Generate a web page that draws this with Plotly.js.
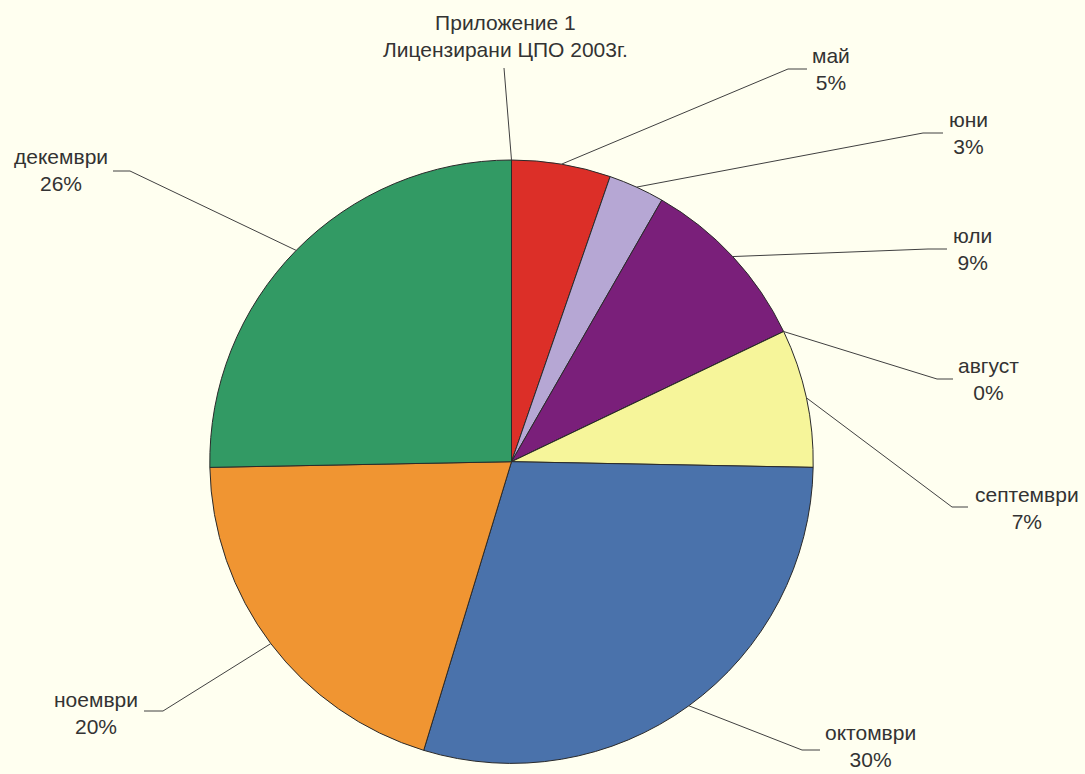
<!DOCTYPE html>
<html>
<head>
<meta charset="utf-8">
<script src="https://cdn.plot.ly/plotly-3.0.1.min.js"></script>
<style>
  html, body { margin: 0; padding: 0; background: #FFFFF0; }
  #chart { width: 1085px; height: 774px; }
</style>
</head>
<body>
<div id="chart"></div>
<script>
// ---- data ----
const months = ["май", "юни", "юли", "август", "септември", "октомври", "ноември", "декември"];
const shares = [5.3, 3.0, 9.6, 0, 7.4, 29.4, 20.0, 25.3];
// percentages as printed on the reference labels
const shareLabels = ["5%", "3%", "9%", "0%", "7%", "30%", "20%", "26%"];
const sliceColors = ["#DC2F28", "#B6A7D4", "#7A1F7A", "#9999CC", "#F6F59A", "#4A72AB", "#F09532", "#329A64"];
const titleLines = ["Приложение 1", "Лицензирани ЦПО 2003г."];

// ---- layout constants (pixels) ----
const W = 1085, H = 774;
const CX = 511.5, CY = 461.7, R = 301.7;
// label placement: text centre, elbow point, end of horizontal stub
const labelPos = [
  {tx: 831, ty: 69,  ex: 788, ey: 69,  hx: 807},
  {tx: 968, ty: 133, ex: 923, ey: 133, hx: 943},
  {tx: 972, ty: 249, ex: 928, ey: 249, hx: 947},
  {tx: 988, ty: 379, ex: 937, ey: 379, hx: 953},
  {tx: 1027, ty: 508, ex: 952, ey: 507, hx: 968},
  {tx: 870, ty: 746, ex: 802, ey: 750, hx: 820},
  {tx: 96,  ty: 713, ex: 163, ey: 711, hx: 144},
  {tx: 61,  ty: 170, ex: 130, ey: 171, hx: 113}
];
const titlePos = {tx: 505, ty: 36, lx: 504, ly: 68};

const px = x => x / W;
const py = y => 1 - y / H;

const total = shares.reduce((a, b) => a + b, 0);
const shapes = [];
const annotations = [];
const lineColor = "#404040";
const textColor = "#333333";
const fontFam = "'Liberation Sans', Arial, sans-serif";
const fontSize = 21;

let cum = 0;
shares.forEach((v, i) => {
  const mid = (cum + v / 2) / total * 2 * Math.PI;
  cum += v;
  const x0 = CX + R * Math.sin(mid), y0 = CY - R * Math.cos(mid);
  const p = labelPos[i];
  shapes.push({
    type: "path", xref: "paper", yref: "paper",
    path: `M ${px(x0)} ${py(y0)} L ${px(p.ex)} ${py(p.ey)} L ${px(p.hx)} ${py(p.ey)}`,
    line: {color: lineColor, width: 1}
  });
  annotations.push({
    xref: "paper", yref: "paper", x: px(p.tx), y: py(p.ty),
    xanchor: "center", yanchor: "middle", showarrow: false,
    text: months[i] + "<br>" + shareLabels[i],
    font: {family: fontFam, size: fontSize, color: textColor}, align: "center"
  });
});

// title with its leader line to the top of the pie
shapes.push({
  type: "path", xref: "paper", yref: "paper",
  path: `M ${px(titlePos.lx)} ${py(titlePos.ly)} L ${px(CX)} ${py(CY - R)}`,
  line: {color: lineColor, width: 1}
});
annotations.push({
  xref: "paper", yref: "paper", x: px(titlePos.tx), y: py(titlePos.ty),
  xanchor: "center", yanchor: "middle", showarrow: false,
  text: titleLines.join("<br>"),
  font: {family: fontFam, size: fontSize, color: textColor}, align: "center"
});

const trace = {
  type: "pie",
  labels: months,
  values: shares,
  sort: false,
  direction: "clockwise",
  rotation: 0,
  textinfo: "none",
  hoverinfo: "label+percent",
  marker: {colors: sliceColors, line: {color: "#2a2a2a", width: 1}},
  domain: {x: [px(CX - R), px(CX + R)], y: [py(CY + R), py(CY - R)]},
  showlegend: false
};

const layout = {
  width: W, height: H,
  margin: {l: 0, r: 0, t: 0, b: 0},
  paper_bgcolor: "#FFFFF0",
  plot_bgcolor: "#FFFFF0",
  showlegend: false,
  shapes: shapes,
  annotations: annotations
};

Plotly.newPlot("chart", [trace], layout, {displayModeBar: false, staticPlot: true});
</script>
</body>
</html>
